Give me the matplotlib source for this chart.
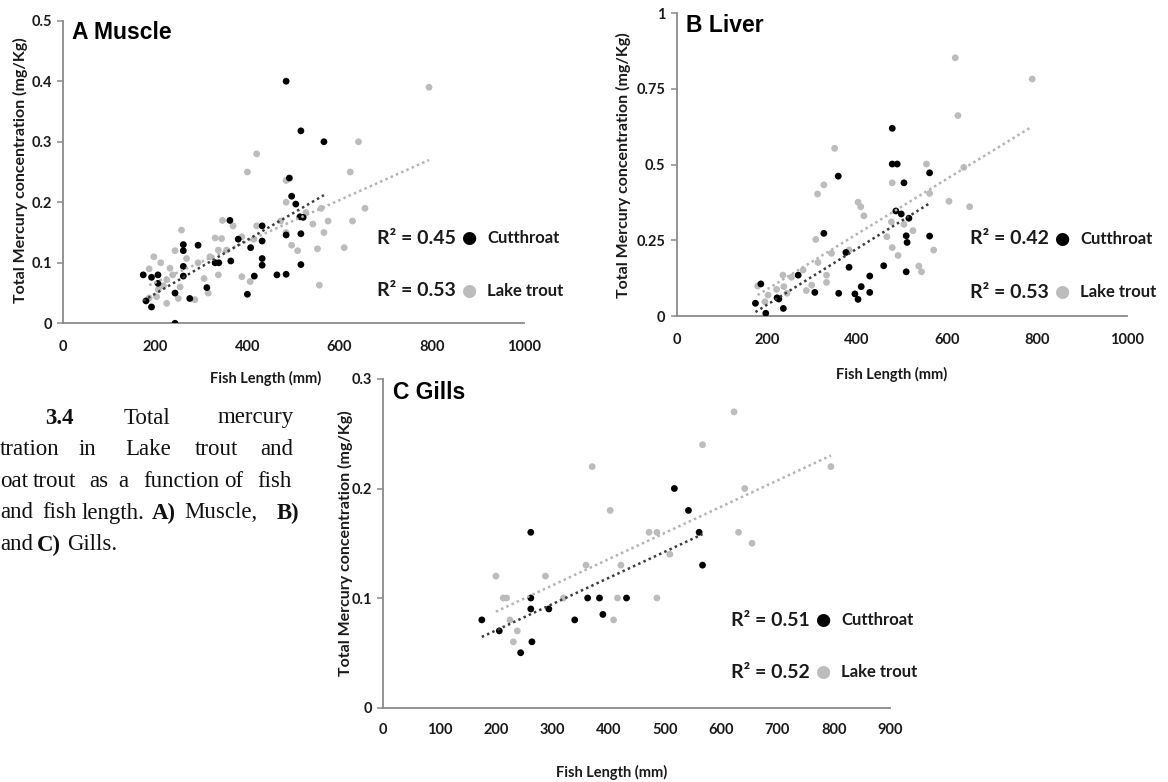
import numpy as np
import matplotlib
matplotlib.use('Agg')
import matplotlib.pyplot as plt
from matplotlib.ticker import FuncFormatter

W, H = 1168, 782

# ---- data: (fish length mm, total Hg mg/Kg) ----
# A Muscle
mus_ct_len = [174, 192, 206, 206, 180, 192, 243, 261, 261, 261, 261, 243, 275, 293, 312, 330,
              338, 362, 364, 380, 407, 415, 400, 432, 432, 432, 432, 464, 484, 516, 566, 491,
              496, 505, 514, 521, 484, 484, 516, 516]
mus_ct_hg = [0.080, 0.076, 0.080, 0.066, 0.037, 0.027, 0.0, 0.13, 0.12, 0.094, 0.078, 0.05, 0.041,
             0.129, 0.059, 0.10, 0.10, 0.17, 0.103, 0.139, 0.125, 0.078, 0.048, 0.161, 0.136,
             0.107, 0.096, 0.080, 0.40, 0.318, 0.30, 0.24, 0.21, 0.197, 0.176, 0.175, 0.146,
             0.081, 0.148, 0.097]
mus_lt_len = [420, 400, 346, 369, 420, 257, 243, 197, 212, 187, 330, 344, 337, 319, 293, 268,
              355, 388, 414, 388, 406, 337, 306, 315, 286, 232, 238, 225, 218, 207, 203, 225,
              250, 254, 187, 641, 623, 484, 484, 655, 472, 560, 575, 628, 542, 484, 566, 496,
              509, 552, 610, 556, 527, 794]
mus_lt_hg = [0.28, 0.25, 0.17, 0.161, 0.161, 0.154, 0.12, 0.11, 0.10, 0.09, 0.141, 0.14, 0.121,
             0.11, 0.10, 0.107, 0.121, 0.143, 0.139, 0.077, 0.069, 0.08, 0.074, 0.05, 0.039,
             0.091, 0.08, 0.072, 0.062, 0.056, 0.044, 0.033, 0.041, 0.06, 0.042, 0.30, 0.25,
             0.236, 0.20, 0.19, 0.169, 0.19, 0.169, 0.169, 0.164, 0.15, 0.15, 0.129, 0.12,
             0.123, 0.125, 0.063, 0.183, 0.39]

# B Liver
liv_ct_len = [479, 479, 490, 505, 359, 327, 562, 487, 499, 516, 510, 512, 562, 376, 383, 460,
              429, 410, 429, 396, 403, 360, 307, 270, 510, 175, 187, 198, 227, 237, 223]
liv_ct_hg = [0.62, 0.502, 0.502, 0.44, 0.462, 0.273, 0.473, 0.347, 0.337, 0.323, 0.265, 0.243,
             0.264, 0.21, 0.161, 0.166, 0.132, 0.097, 0.078, 0.073, 0.055, 0.075, 0.078, 0.135,
             0.146, 0.042, 0.106, 0.009, 0.056, 0.025, 0.06]
liv_lt_len = [351, 327, 313, 403, 409, 416, 479, 555, 562, 571, 477, 505, 525, 467, 479, 492,
              538, 544, 309, 344, 383, 314, 333, 333, 300, 288, 281, 255, 619, 790, 625, 638,
              605, 651, 236, 238, 245, 222, 203, 196, 180]
liv_lt_hg = [0.554, 0.433, 0.403, 0.376, 0.361, 0.331, 0.44, 0.502, 0.405, 0.218, 0.311, 0.303,
             0.282, 0.262, 0.226, 0.20, 0.165, 0.146, 0.253, 0.207, 0.218, 0.177, 0.135, 0.111,
             0.102, 0.084, 0.152, 0.128, 0.853, 0.783, 0.662, 0.491, 0.379, 0.361, 0.135, 0.097,
             0.075, 0.088, 0.069, 0.047, 0.099]

# C Gills
gil_ct_len = [175, 206, 244, 262, 262, 262, 264, 294, 340, 363, 384, 390, 432, 517, 542, 561, 567]
gil_ct_hg = [0.08, 0.07, 0.05, 0.16, 0.10, 0.09, 0.06, 0.09, 0.08, 0.10, 0.10, 0.085, 0.10,
             0.20, 0.18, 0.16, 0.13]
gil_lt_len = [200, 213, 219, 225, 238, 231, 288, 320, 360, 371, 403, 422, 416, 409, 623, 567,
              795, 642, 472, 486, 631, 655, 509, 486]
gil_lt_hg = [0.12, 0.10, 0.10, 0.08, 0.07, 0.06, 0.12, 0.10, 0.13, 0.22, 0.18, 0.13, 0.10, 0.08,
             0.27, 0.24, 0.22, 0.20, 0.16, 0.16, 0.16, 0.15, 0.14, 0.10]

r2_labels = {'A': ('0.45', '0.53'), 'B': ('0.42', '0.53'), 'C': ('0.51', '0.52')}

BLACK = '#000000'
GREY = '#bcbcbc'
AXCOL = '#8a8a8a'
TXT = '#1a1a1a'


def px_box(x0, x1, y_bottom, y_top):
    return [x0 / W, 1 - y_bottom / H, (x1 - x0) / W, (y_bottom - y_top) / H]


def fx(x):
    return x / W


def fy(y):
    return 1 - y / H


def trend(ax, x, y, color):
    x = np.asarray(x, float)
    y = np.asarray(y, float)
    k, b = np.polyfit(x, y, 1)
    xs = np.array([x.min(), x.max()])
    ax.plot(xs, k * xs + b, color=color, lw=1.8, ls=(0, (1, 1.3)), zorder=4)


def panel(box, ct_len, ct_hg, lt_len, lt_hg, xmax, xstep, ymax, ystep, title, xpad):
    ax = fig.add_axes(box)
    ax.scatter(lt_len, lt_hg, s=24, color=GREY, edgecolors='none', zorder=2)
    ax.scatter(ct_len, ct_hg, s=24, color=BLACK, edgecolors='none', zorder=3)
    trend(ax, lt_len, lt_hg, '#b3b3b3')
    trend(ax, ct_len, ct_hg, '#3c3c3c')
    ax.set_xlim(0, xmax)
    ax.set_ylim(0, ymax)
    ax.set_xticks(np.arange(0, xmax + 1, xstep))
    ax.set_yticks(np.arange(0, ymax + ystep / 2, ystep))
    ax.yaxis.set_major_formatter(FuncFormatter(lambda v, p: '%g' % round(v, 3)))
    for s in ['top', 'right']:
        ax.spines[s].set_visible(False)
    for s in ['left', 'bottom']:
        ax.spines[s].set_color(AXCOL)
        ax.spines[s].set_linewidth(1.3)
    ax.tick_params(axis='y', length=4, width=1.1, color=AXCOL, pad=4,
                   labelsize=10.5, labelcolor=TXT)
    ax.tick_params(axis='x', length=0, pad=xpad, labelsize=10.5, labelcolor=TXT)
    for lab in ax.get_xticklabels() + ax.get_yticklabels():
        lab.set_fontweight('bold')
    ax.patch.set_alpha(0)
    ax.text(0.02, 0.96, title, transform=ax.transAxes, fontsize=16.5, fontweight='bold',
            family='Liberation Sans', va='center', ha='left')
    return ax


def r2_block(x, y1, y2, vals):
    for yy, v, col, name in [(y1, vals[0], BLACK, 'Cutthroat'), (y2, vals[1], GREY, 'Lake trout')]:
        fig.text(fx(x), fy(yy), 'R² = ' + v, fontsize=14, fontweight='bold', color=TXT,
                 va='center', ha='left', family='Lato')
        fig.text(fx(x + 92), fy(yy), '●', fontsize=12.5, color=col, va='center', ha='center',
                 family='DejaVu Sans')
        fig.text(fx(x + 110), fy(yy), name, fontsize=12, fontweight='bold', color=TXT,
                 va='center', ha='left', family='Lato')


plt.rcParams['font.family'] = ['Lato', 'DejaVu Sans']
fig = plt.figure(figsize=(W / 100, H / 100), dpi=100)

panel(px_box(63, 524, 323.3, 20.7), mus_ct_len, mus_ct_hg, mus_lt_len, mus_lt_hg,
      1000, 200, 0.5, 0.1, 'A Muscle', 12)
panel(px_box(676.7, 1126.7, 316, 13.3), liv_ct_len, liv_ct_hg, liv_lt_len, liv_lt_hg,
      1000, 200, 1.0, 0.25, 'B Liver', 12)
panel(px_box(383.3, 890, 707.5, 379), gil_ct_len, gil_ct_hg, gil_lt_len, gil_lt_hg,
      900, 100, 0.3, 0.1, 'C Gills', 11)

# axis titles
ylab = 'Total Mercury concentration (mg/Kg)'
for x, y in [(20, 170), (623, 165), (345, 543)]:
    fig.text(fx(x), fy(y), ylab, rotation=90, fontsize=11.5, fontweight='bold', va='center',
             ha='center', color=TXT)
xlab = 'Fish Length (mm)'
for x, y in [(266, 378), (892, 374), (612, 772)]:
    fig.text(fx(x), fy(y), xlab, fontsize=10.5, fontweight='bold', va='center', ha='center',
             color=TXT)

# R2 legends
r2_block(377, 238, 291, r2_labels['A'])
r2_block(970, 239, 292, r2_labels['B'])
r2_block(731, 620, 672, r2_labels['C'])

# caption fragment on the left (justified words placed one by one)
cap = dict(fontsize=16.5, family='Liberation Serif', va='center', ha='left', color='#111111')
caption_lines = [
    (418, [(45, '3.4', 'bold'), (124, 'Total', 'normal'), (218, 'mercury', 'normal')]),
    (449, [(0, 'tration', 'normal'), (79, 'in', 'normal'), (125, 'Lake', 'normal'),
           (195, 'trout', 'normal'), (260, 'and', 'normal')]),
    (482, [(0, 'oat', 'normal'), (33, 'trout', 'normal'), (89, 'as', 'normal'),
           (118, 'a', 'normal'), (143, 'function', 'normal'), (224, 'of', 'normal'),
           (257, 'fish', 'normal')]),
    (513, [(0, 'and', 'normal'), (42, 'fish', 'normal'), (82, 'length.', 'normal'),
           (152, 'A)', 'bold'), (184, 'Muscle,', 'normal'), (277, 'B)', 'bold')]),
    (545, [(0, 'and', 'normal'), (37, 'C)', 'bold'), (67, 'Gills.', 'normal')]),
]
for y, words in caption_lines:
    for x, w, wt in words:
        fig.text(fx(x), fy(y), w, fontweight=wt, **cap)

fig.savefig('out.png', dpi=100)
